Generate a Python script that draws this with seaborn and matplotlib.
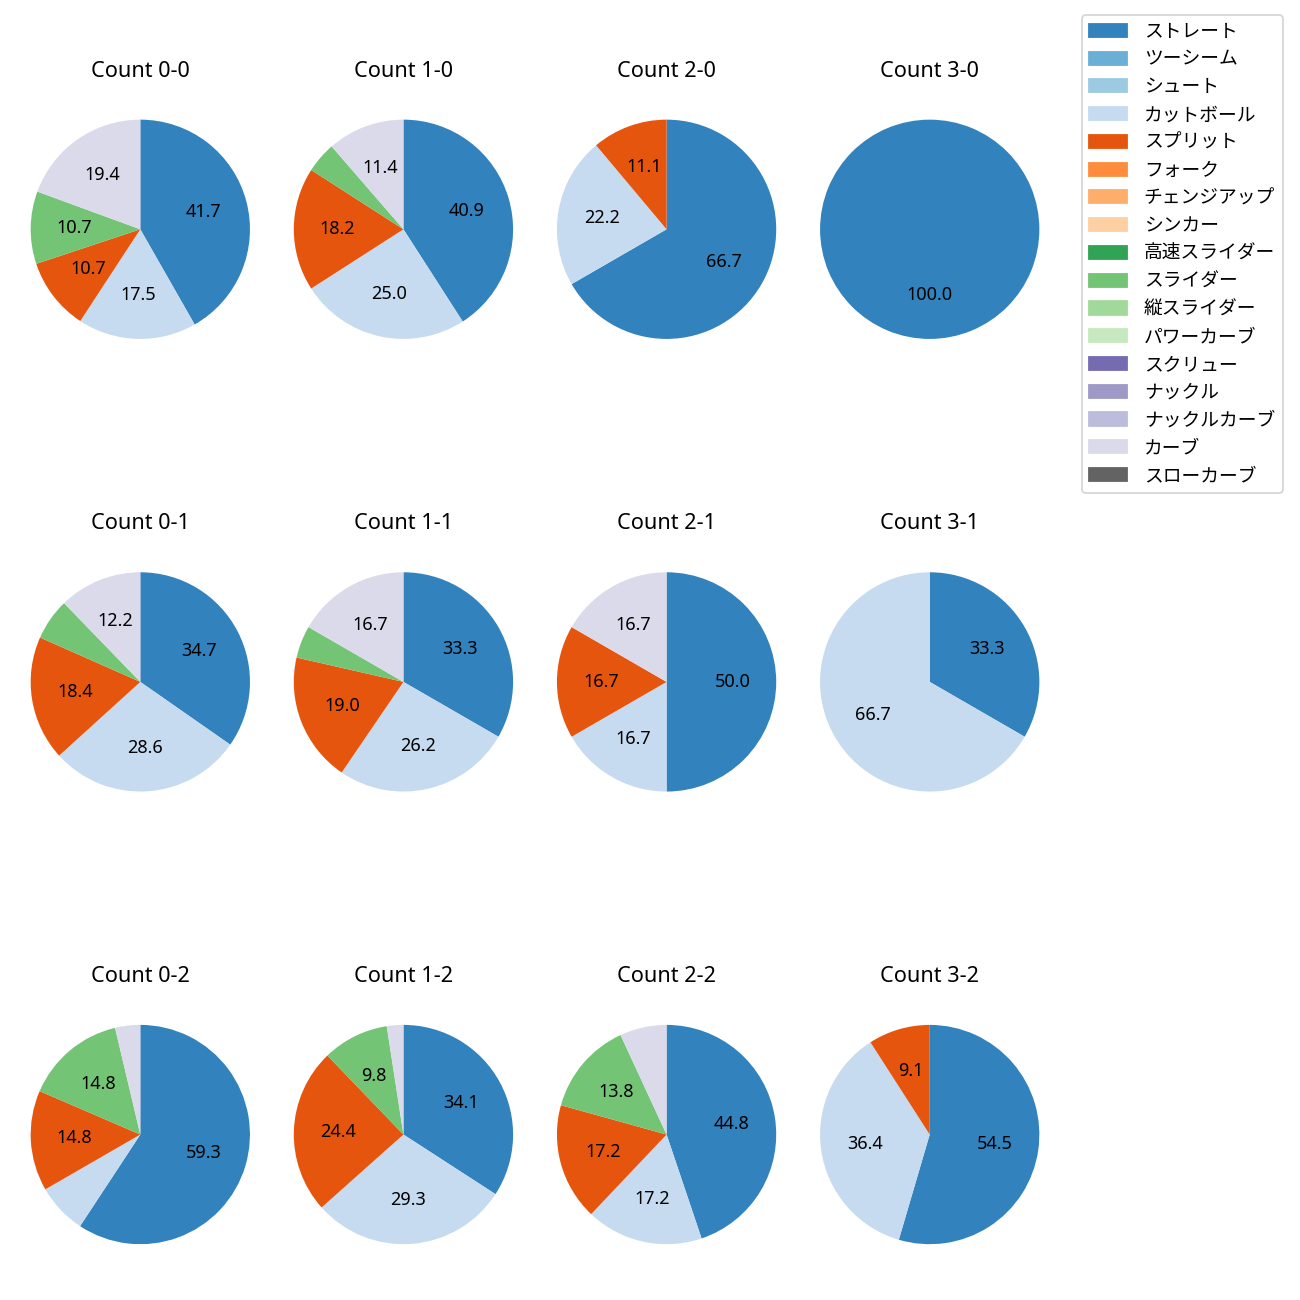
import matplotlib.pyplot as plt
import matplotlib.patches as mpatches
import pandas as pd
import seaborn as sns

plt.rcParams['font.family'] = ['Noto Sans', 'Noto Sans CJK JP', 'DejaVu Sans']

# pitch types (legend order) and the counts shown in the grid
pitch_types = ['ストレート', 'ツーシーム', 'シュート', 'カットボール', 'スプリット', 'フォーク',
               'チェンジアップ', 'シンカー', '高速スライダー', 'スライダー', '縦スライダー',
               'パワーカーブ', 'スクリュー', 'ナックル', 'ナックルカーブ', 'カーブ', 'スローカーブ']
balls = [0, 1, 2, 3, 0, 1, 2, 3, 0, 1, 2, 3]
strikes = [0, 0, 0, 0, 1, 1, 1, 1, 2, 2, 2, 2]

# number of pitches per count
straight = [43, 18, 6, 1, 17, 14, 3, 1, 16, 14, 13, 6]
cutball = [18, 11, 2, 0, 14, 11, 1, 2, 2, 12, 5, 4]
split = [11, 8, 1, 0, 9, 8, 1, 0, 4, 10, 5, 1]
slider = [11, 2, 0, 0, 3, 2, 0, 0, 4, 4, 4, 0]
curve = [20, 5, 0, 0, 6, 7, 1, 0, 1, 1, 2, 0]

df = pd.DataFrame({'balls': balls, 'strikes': strikes,
                   'ストレート': straight, 'カットボール': cutball, 'スプリット': split,
                   'スライダー': slider, 'カーブ': curve})

palette = sns.color_palette('tab20c', 20)
colors = {p: palette[i] for i, p in enumerate(pitch_types)}

fig, axes = plt.subplots(3, 4, figsize=(10, 10), dpi=130)
fig.subplots_adjust(left=0.0236, right=0.7995, top=0.9327, bottom=0.0182,
                    wspace=0.2, hspace=0.596)

for _, row in df.iterrows():
    ax = axes[row['strikes'], row['balls']]
    used = [p for p in pitch_types if p in df.columns and row[p] > 0]
    vals = [row[p] for p in used]
    ax.pie(vals, colors=[colors[p] for p in used], startangle=90, counterclock=False,
           autopct=lambda pct: f'{pct:.1f}' if pct >= 8 else '')
    ax.set_aspect('equal', adjustable='datalim')
    ax.set_xlim(-1, 1)
    ax.set_ylim(-1, 1)
    ax.set_title(f"Count {row['balls']}-{row['strikes']}")

handles = [mpatches.Patch(color=colors[p], label=p) for p in pitch_types]
fig.legend(handles=handles, loc='upper right', bbox_to_anchor=(0.9938, 0.9954),
           fontsize=10.4, handletextpad=0.9, labelspacing=0.52)

plt.savefig('out.png')
